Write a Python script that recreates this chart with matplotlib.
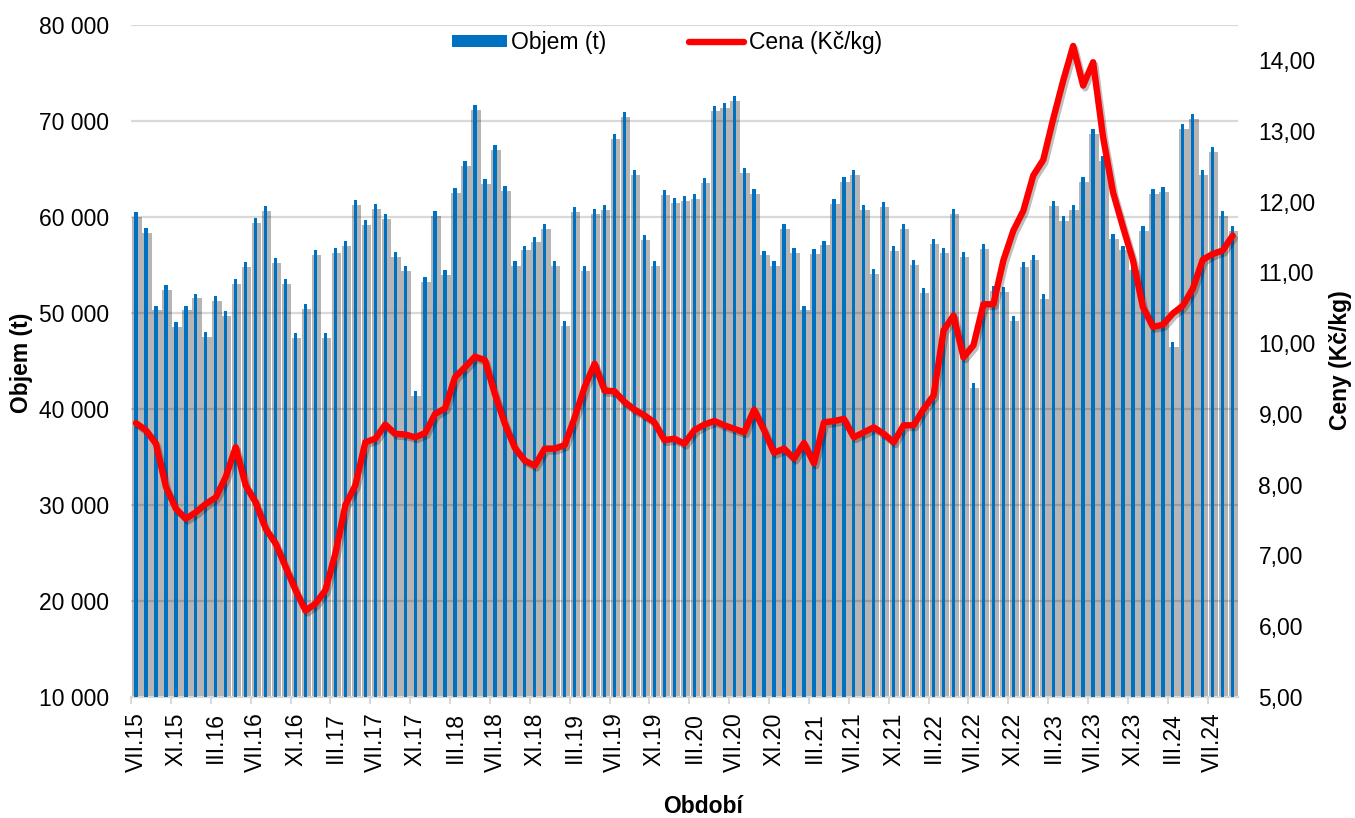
import matplotlib
matplotlib.use("Agg")
import matplotlib.pyplot as plt
import matplotlib.patheffects as pe
from matplotlib.patches import Patch
from matplotlib.lines import Line2D
from matplotlib.ticker import FuncFormatter, FixedLocator
import numpy as np

plt.rcParams["font.family"] = ["Liberation Sans", "DejaVu Sans"]

# Monthly volume (t), VII.15 - IX.24
objem = [
    60500, 58800, 50760, 52850, 49060, 50760, 52010, 47990, 51740, 50140,
    53540, 55280, 59830, 61080, 55730, 53510, 47850, 50870, 56560, 47920,
    56700, 57430, 61740, 59620, 61320, 60310, 56350, 54830, 41870, 53720,
    60560, 54480, 62990, 65800, 71630, 63920, 67500, 63190, 55350, 57010,
    57920, 59200, 55420, 49100, 61010, 54860, 60800, 61180, 68610, 70870,
    64860, 58130, 55420, 62810, 61940, 62120, 62360, 64060, 71560, 71810,
    72600, 65030, 62880, 56490, 55380, 59240, 56770, 50760, 56600, 57530,
    61810, 64170, 64830, 61180, 54550, 61530, 56910, 59200, 55520, 52570,
    57710, 56740, 60800, 56320, 42710, 57120, 52780, 52640, 49650, 55280,
    55970, 51980, 61630, 60070, 61180, 64130, 69100, 66280, 58170, 57000,
    55000, 59030, 62850, 63060, 46980, 69650, 70660, 64860, 67260, 60620,
    59060,
]

# Monthly price (Kc/kg)
cena = [
    8.87, 8.77, 8.58, 7.97, 7.66, 7.52, 7.61, 7.73, 7.82, 8.11,
    8.53, 7.99, 7.75, 7.38, 7.17, 6.84, 6.51, 6.22, 6.32, 6.51,
    7.03, 7.71, 7.99, 8.60, 8.65, 8.85, 8.72, 8.71, 8.67, 8.73,
    9.00, 9.08, 9.52, 9.66, 9.81, 9.76, 9.28, 8.86, 8.52, 8.34,
    8.27, 8.51, 8.51, 8.56, 8.95, 9.38, 9.71, 9.33, 9.32, 9.17,
    9.06, 8.98, 8.88, 8.63, 8.65, 8.58, 8.77, 8.85, 8.90, 8.84,
    8.79, 8.74, 9.06, 8.77, 8.45, 8.51, 8.37, 8.59, 8.30, 8.88,
    8.90, 8.93, 8.67, 8.74, 8.81, 8.72, 8.60, 8.84, 8.84, 9.07,
    9.26, 10.18, 10.39, 9.80, 9.97, 10.55, 10.55, 11.17, 11.59, 11.87,
    12.37, 12.59, 13.17, 13.71, 14.20, 13.64, 13.97, 12.91, 12.13, 11.64,
    11.17, 10.51, 10.23, 10.26, 10.42, 10.53, 10.77, 11.18, 11.26, 11.31,
    11.52,
]

# Every fourth month is labelled
tick_labels = [
    "VII.15", "XI.15", "III.16", "VII.16", "XI.16", "III.17", "VII.17",
    "XI.17", "III.18", "VII.18", "XI.18", "III.19", "VII.19", "XI.19",
    "III.20", "VII.20", "XI.20", "III.21", "VII.21", "XI.21", "III.22",
    "VII.22", "XI.22", "III.23", "VII.23", "XI.23", "III.24", "VII.24",
]

x = np.arange(len(objem))
fs = 16.5

fig = plt.figure(figsize=(13.55, 8.18), dpi=100)
ax = fig.add_axes([0.0967, 0.1479, 0.8167, 0.8219])

# soft bar shadows (semi-transparent, so gridlines show through darker)
ax.bar(x + 0.1, np.array(objem) - 500, width=0.95, align="center",
       color="black", alpha=0.29, linewidth=0, zorder=2)
ax.bar(x, objem, width=0.33, color="#0070C0", linewidth=0, zorder=3)

ax.set_ylim(10000, 80000)
ax.set_xlim(-0.5, len(objem) - 0.5)
ax.set_yticks(np.arange(10000, 80001, 10000))
ax.yaxis.set_major_formatter(FuncFormatter(lambda v, p: f"{int(v):,}".replace(",", " ")))
ax.grid(axis="y", color="#d9d9d9", linewidth=1.6, zorder=1)
ax.set_axisbelow(True)

ax.set_xticks(x[::4])
ax.set_xticklabels(tick_labels, rotation=90, fontsize=fs)
ax.xaxis.set_minor_locator(FixedLocator(np.arange(-0.5, len(objem), 4)))
ax.tick_params(axis="x", which="major", length=0, pad=11)
ax.tick_params(axis="x", which="minor", length=5, width=1.5, color="#d9d9d9")
ax.tick_params(axis="y", length=0, pad=16, labelsize=fs)

for s in ["left", "right", "top"]:
    ax.spines[s].set_visible(False)
ax.spines["bottom"].set_color("#d9d9d9")
ax.spines["bottom"].set_linewidth(1.6)

# Price on the secondary axis
ax2 = ax.twinx()
ax2.plot(x, cena, color="#FF0000", linewidth=4.6, solid_joinstyle="round",
         solid_capstyle="round", zorder=4,
         path_effects=[pe.SimpleLineShadow(offset=(1.5, -2), alpha=0.25),
                       pe.Normal()])
ax2.set_ylim(5, 14.5)
ax2.set_yticks(np.arange(5, 14.01, 1))
ax2.yaxis.set_major_formatter(FuncFormatter(lambda v, p: f"{v:.2f}".replace(".", ",")))
ax2.tick_params(axis="y", length=0, pad=15, labelsize=fs)
for s in ax2.spines.values():
    s.set_visible(False)

# Axis titles
fig.text(0.0162, 0.557, "Objem (t)", rotation=90, ha="center", va="center",
         fontsize=fs, fontweight="bold")
fig.text(0.9895, 0.56, "Ceny (Kč/kg)", rotation=90, ha="center", va="center",
         fontsize=fs, fontweight="bold")
fig.text(0.5185, 0.0135, "Období", ha="center", va="center",
         fontsize=fs, fontweight="bold")

handles = [Patch(facecolor="#0070C0", edgecolor="none"),
           Line2D([0], [0], color="#FF0000", linewidth=4.6, solid_capstyle="round")]
ax2.legend(handles, ["Objem (t)", "Cena (Kč/kg)"], loc="center",
           bbox_to_anchor=(0.484, 0.973), ncol=2, frameon=False, fontsize=fs,
           handlelength=2.4, handleheight=0.45, handletextpad=0.2,
           columnspacing=3.6)

fig.savefig("out.png", dpi=100)
